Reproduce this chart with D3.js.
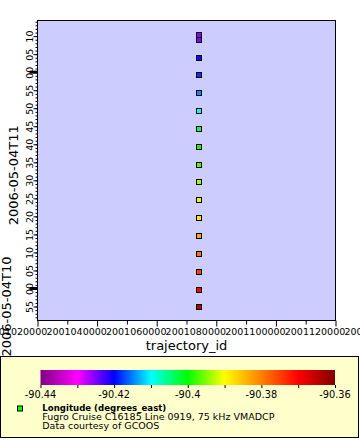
<!DOCTYPE html>
<html><head><meta charset="utf-8">
<script src="https://cdn.jsdelivr.net/npm/d3@7"></script>
<style>
body{margin:0;background:#fff}
svg{display:block}
text{font-family:"DejaVu Sans",sans-serif;fill:#000}
</style>
</head><body>
<svg id="chart" width="360" height="440"></svg>
<script>
// ---- data ----
const times = [
  "2006-05-04T09:54:57Z","2006-05-04T09:59:35Z","2006-05-04T10:04:35Z","2006-05-04T10:09:31Z",
  "2006-05-04T10:14:31Z","2006-05-04T10:19:30Z","2006-05-04T10:24:30Z","2006-05-04T10:29:30Z",
  "2006-05-04T10:34:17Z","2006-05-04T10:39:17Z","2006-05-04T10:44:16Z","2006-05-04T10:49:16Z",
  "2006-05-04T10:54:16Z","2006-05-04T10:59:13Z","2006-05-04T11:03:50Z","2006-05-04T11:08:56Z",
  "2006-05-04T11:10:19Z"
];
const longitudes = [
  -90.3638,-90.3700,-90.3745,-90.3790,-90.3830,-90.3880,-90.3910,-90.3940,
  -90.3970,-90.4010,-90.4040,-90.4100,-90.4144,-90.4180,-90.4210,-90.4250,-90.4255
];
const trajectoryIds = [
  2001074300,2001074300,2001074300,2001074300,2001074300,2001074300,2001074300,2001074300,
  2001074300,2001074300,2001074300,2001074300,2001074300,2001074300,2001074300,2001074300,2001074300
];
const xDomain = [2001020000, 2001120000];
const xTickValues = [2001020000,2001040000,2001060000,2001080000,2001100000,2001120000,2001140000];
const xMinorValues = [2001030000,2001050000,2001070000,2001090000,2001110000];
const yDomain = ["2006-05-04T09:51:07Z","2006-05-04T11:14:20Z"];
const hourLabels = ["2006-05-04T10","2006-05-04T11"];
const colorTickValues = [-90.44,-90.43,-90.42,-90.41,-90.40,-90.39,-90.38,-90.37,-90.36];
const colorLabelValues = [-90.44,-90.42,-90.40,-90.38,-90.36];
const colorStops = ["#800080","#ff00ff","#0000ff","#00ffff","#00ff00","#ffff00","#ff8000","#ff0000","#800000"];
const xTitle = "trajectory_id";
const legendTitle = "Longitude (degrees_east)";
const legendLines = ["Fugro Cruise C16185 Line 0919, 75 kHz VMADCP","Data courtesy of GCOOS"];

// ---- layout ----
const L = 37.5, R = 335.5, T = 20.5, B = 320.5;
const svg = d3.select("#chart");

const x = d3.scaleLinear().domain(xDomain).range([L, R]);
const y = d3.scaleUtc().domain(yDomain.map(d => new Date(d))).range([B, T]);
const color = d3.scaleLinear().domain(colorTickValues).range(colorStops).interpolate(d3.interpolateRgb);

// plot background
svg.append("rect").attr("x", L).attr("y", T).attr("width", R - L).attr("height", B - T)
  .attr("fill", "#ccccff").attr("stroke", "#000").attr("stroke-width", 1);

// ---- y axis (time) ----
const yMinor = d3.axisLeft(y).ticks(d3.utcMinute.every(1)).tickSize(2).tickFormat("");
svg.append("g").attr("transform", `translate(${L},0)`).call(yMinor)
  .call(g => g.select(".domain").remove())
  .call(g => g.selectAll("line").attr("stroke", "#000"));

const yMajor = d3.axisLeft(y).ticks(d3.utcMinute.every(5)).tickSize(4)
  .tickFormat(d3.utcFormat("%M"));
svg.append("g").attr("transform", `translate(${L},0)`).call(yMajor)
  .call(g => g.select(".domain").remove())
  .call(g => g.selectAll("line").attr("stroke", "#000"))
  .call(g => g.selectAll("text")
     .attr("transform", "rotate(-90)")
     .attr("x", 0).attr("y", -5).attr("dy", 0)
     .attr("text-anchor", "middle")
     .attr("fill", "#000")
     .style("font-family", "'DejaVu Sans'")
     .style("font-size", "9.5px"));

// thick hour ticks
const hours = y.ticks(d3.utcHour.every(1));
svg.append("g").selectAll("line").data(hours).join("line")
  .attr("x1", L - 8).attr("x2", L)
  .attr("y1", d => y(d)).attr("y2", d => y(d))
  .attr("stroke", "#000").attr("stroke-width", 3);

// hour labels (rotated)
const dom = y.domain();
const hourSpans = [
  {label: hourLabels[0], a: dom[0], b: hours[0], bx: 11, dy: 2},
  {label: hourLabels[1], a: hours[0], b: hours[1], bx: 17.5, dy: -5}
];
svg.append("g").selectAll("text").data(hourSpans).join("text")
  .attr("transform", d => `translate(${d.bx},${(y(d.a) + y(d.b)) / 2 + d.dy}) rotate(-90)`)
  .attr("text-anchor", "middle")
  .style("font-size", "13px")
  .text(d => d.label);

// ---- x axis ----
svg.append("g").attr("transform", `translate(0,${B})`)
  .call(d3.axisBottom(x).tickValues(xMinorValues).tickSize(4).tickFormat(""))
  .call(g => g.select(".domain").remove())
  .call(g => g.selectAll("line").attr("stroke", "#000"));

svg.append("g").attr("transform", `translate(0,${B})`)
  .call(d3.axisBottom(x).tickValues(xTickValues).tickSize(6).tickFormat(d3.format("d")))
  .call(g => g.select(".domain").remove())
  .call(g => g.selectAll("line").attr("stroke", "#000"))
  .call(g => g.selectAll("text")
     .attr("y", 14).attr("dy", 0).attr("dx", -21)
     .attr("fill", "#000")
     .style("font-family", "'DejaVu Sans'")
     .style("font-size", "9.5px"));

svg.append("text").attr("x", (L + R) / 2).attr("y", 350)
  .attr("text-anchor", "middle").style("font-size", "13px").text(xTitle);

// ---- points ----
const pts = times.map((t, i) => ({t: new Date(t), lon: longitudes[i], id: trajectoryIds[i]}));
svg.append("g").selectAll("rect").data(pts).join("rect")
  .attr("x", d => Math.round(x(d.id)) - 2.5)
  .attr("y", d => Math.round(y(d.t)) - 2.5)
  .attr("width", 5).attr("height", 5)
  .attr("fill", d => color(d.lon))
  .attr("stroke", "#000").attr("stroke-width", 1);

// ---- legend ----
svg.append("rect").attr("x", 0.5).attr("y", 356.5).attr("width", 358).attr("height", 81)
  .attr("fill", "#ffffcc").attr("stroke", "#000");

const cx = d3.scaleLinear().domain([colorTickValues[0], colorTickValues[colorTickValues.length - 1]]).range([40.5, 335]);
const grad = svg.append("defs").append("linearGradient").attr("id", "cbar")
  .attr("x1", "0%").attr("x2", "100%").attr("y1", "0%").attr("y2", "0%");
grad.selectAll("stop").data(colorTickValues).join("stop")
  .attr("offset", (d, i) => (i / (colorTickValues.length - 1) * 100) + "%")
  .attr("stop-color", d => color(d));
svg.append("rect").attr("x", 40.5).attr("y", 370).attr("width", 335 - 40.5).attr("height", 15)
  .attr("fill", "url(#cbar)");

svg.append("g").attr("transform", "translate(0,385)")
  .call(d3.axisBottom(cx).tickValues(colorTickValues).tickSize(3).tickFormat(""))
  .call(g => g.select(".domain").remove())
  .call(g => g.selectAll("line").attr("stroke", "#000"));
svg.append("g").selectAll("text").data(colorLabelValues).join("text")
  .attr("x", d => cx(d)).attr("y", 397.5).attr("text-anchor", "middle")
  .style("font-size", "9.8px")
  .text(d => String(+d.toFixed(2)));

svg.append("rect").attr("x", 17.5).attr("y", 406).attr("width", 5).attr("height", 5)
  .attr("fill", "#00ff00").attr("stroke", "#000");
svg.append("text").attr("x", 42.3).attr("y", 410.5)
  .style("font-size", "9.5px").style("font-weight", "bold")
  .attr("textLength", 124).attr("lengthAdjust", "spacingAndGlyphs")
  .text(legendTitle);
svg.append("g").selectAll("text").data(legendLines).join("text")
  .attr("x", 42.3).attr("y", (d, i) => 419.5 + i * 9)
  .style("font-size", "9.5px")
  .text(d => d);
</script>
</body></html>
